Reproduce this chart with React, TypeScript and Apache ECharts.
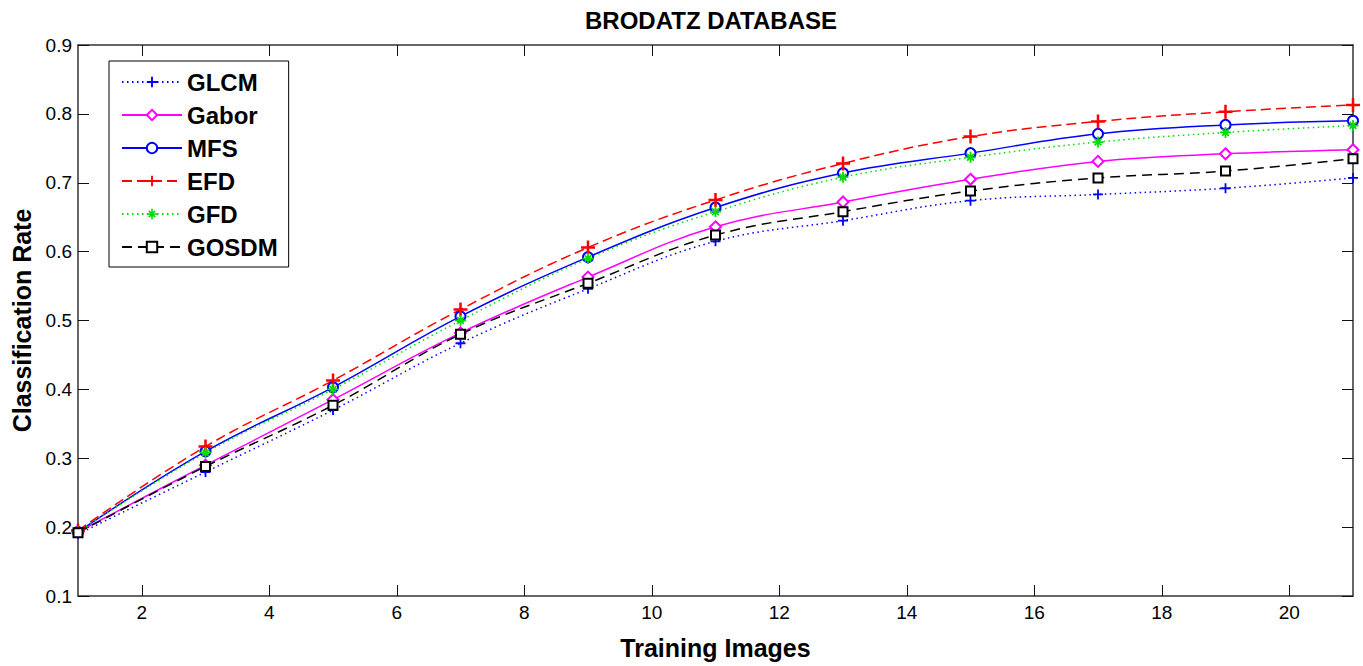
import React, { useEffect, useRef } from "react";
import * as echarts from "echarts";

const X = [1, 3, 5, 7, 9, 11, 13, 15, 17, 19, 21];
const GLCM = [0.19, 0.28, 0.37, 0.467, 0.546, 0.615, 0.645, 0.674, 0.683, 0.692, 0.707];
const GABOR = [0.193, 0.29, 0.385, 0.482, 0.563, 0.636, 0.672, 0.705, 0.731, 0.742, 0.748];
const MFS = [0.193, 0.31, 0.403, 0.506, 0.592, 0.664, 0.714, 0.743, 0.771, 0.784, 0.79];
const EFD = [0.195, 0.317, 0.413, 0.516, 0.606, 0.675, 0.728, 0.767, 0.789, 0.803, 0.813];
const GFD = [0.193, 0.308, 0.4, 0.5, 0.59, 0.658, 0.708, 0.737, 0.759, 0.773, 0.783];
const GOSDM = [0.192, 0.288, 0.377, 0.48, 0.554, 0.624, 0.658, 0.688, 0.707, 0.717, 0.735];
const X_TICKS = [2, 4, 6, 8, 10, 12, 14, 16, 18, 20];
const TITLE = "BRODATZ DATABASE";
const X_NAME = "Training Images";
const Y_NAME = "Classification Rate";

const FONT = '"Liberation Sans", Arial, Helvetica, sans-serif';
const PLUS = "path://M4.1,0H5.9V4.1H10V5.9H5.9V10H4.1V5.9H0V4.1H4.1Z";
const STAR =
  "path://M4.2,0H5.8V4.2H10V5.8H5.8V10H4.2V5.8H0V4.2H4.2Z M1.4,2.5L2.5,1.4L8.6,7.5L7.5,8.6Z M7.5,1.4L8.6,2.5L2.5,8.6L1.4,7.5Z";

const pairs = (ys: number[]) => X.map((x, i) => [x, ys[i]]);

export default function App() {
  const ref = useRef<HTMLDivElement>(null);
  useEffect(() => {
    document.body.style.margin = "0";
    document.body.style.overflow = "hidden";
    const chart = echarts.init(ref.current!, null, { renderer: "svg" });
    const lineSeries = (
      name: string,
      ys: number[],
      color: string,
      type: any,
      symbol: string,
      size: number,
      empty: boolean
    ) => ({
      name,
      type: "line",
      data: pairs(ys),
      smooth: 0.4,
      symbol,
      symbolSize: size,
      showSymbol: true,
      lineStyle: { color, width: 1.5, type },
      itemStyle: empty
        ? { color, borderColor: color, borderWidth: 1.1 }
        : { color, borderWidth: 0 },
      emphasis: { disabled: true },
      z: 3,
    });
    const axisCommon = {
      axisLine: { show: true, onZero: false, lineStyle: { color: "#333", width: 1.5 } },
      axisTick: { show: true, inside: true, length: 11, lineStyle: { color: "#111", width: 1 } },
      splitLine: { show: false },
    };
    chart.setOption({
      animation: false,
      backgroundColor: "#fff",
      textStyle: { fontFamily: FONT },
      grid: { left: 78, right: 10, top: 45, bottom: 70, containLabel: false, outerBoundsMode: "none" },
      graphic: [
        {
          type: "text",
          x: 711,
          y: 20,
          style: {
            text: TITLE,
            fontFamily: FONT,
            fontSize: 24,
            fontWeight: "bold",
            fill: "#000",
            textAlign: "center",
            textVerticalAlign: "middle",
          },
        },
      ],
      legend: {
        orient: "vertical",
        left: 109,
        top: 61,
        padding: [9, 11, 8, 12],
        itemWidth: 60,
        itemHeight: 13,
        itemGap: 9,
        backgroundColor: "#fff",
        borderColor: "#000",
        borderWidth: 1,
        borderRadius: 0,
        selectedMode: false,
        textStyle: { fontFamily: FONT, fontSize: 24, fontWeight: "bold", color: "#000", lineHeight: 24 },
        data: ["GLCM", "Gabor", "MFS", "EFD", "GFD", "GOSDM"],
      },
      xAxis: [
        {
          type: "value",
          min: 1,
          max: 21,
          position: "bottom",
          ...axisCommon,
          axisTick: { ...axisCommon.axisTick, customValues: X_TICKS },
          axisLabel: {
            customValues: X_TICKS,
            fontFamily: FONT,
            fontSize: 19,
            color: "#000",
            margin: 7,
          },
          name: X_NAME,
          nameLocation: "middle",
          nameGap: 39,
          nameTextStyle: { fontFamily: FONT, fontSize: 25, fontWeight: "bold", color: "#000" },
        },
        {
          type: "value",
          min: 1,
          max: 21,
          position: "top",
          ...axisCommon,
          axisTick: { ...axisCommon.axisTick, customValues: X_TICKS },
          axisLabel: { show: false },
        },
      ],
      yAxis: [
        {
          type: "value",
          min: 0.1,
          max: 0.9,
          interval: 0.1,
          position: "left",
          ...axisCommon,
          axisLabel: {
            fontFamily: FONT,
            fontSize: 19,
            color: "#000",
            margin: 6,
            formatter: (v: number) => v.toFixed(1),
          },
          name: Y_NAME,
          nameLocation: "middle",
          nameGap: 44,
          nameRotate: 90,
          nameTextStyle: { fontFamily: FONT, fontSize: 25, fontWeight: "bold", color: "#000" },
        },
        {
          type: "value",
          min: 0.1,
          max: 0.9,
          interval: 0.1,
          position: "right",
          ...axisCommon,
          axisLabel: { show: false },
        },
      ],
      series: [
        lineSeries("GLCM", GLCM, "#0000ff", [1.5, 3.5], PLUS, 10, false),
        lineSeries("Gabor", GABOR, "#ff00ff", "solid", "emptyDiamond", 11, true),
        lineSeries("MFS", MFS, "#0000ff", "solid", "emptyCircle", 10, true),
        lineSeries("EFD", EFD, "#ff0000", [10, 5], PLUS, 14, false),
        lineSeries("GFD", GFD, "#00dd00", [1.5, 3.5], STAR, 11, false),
        lineSeries("GOSDM", GOSDM, "#000000", [10, 6], "emptyRect", 9, true),
      ],
    });
    return () => chart.dispose();
  }, []);
  return <div ref={ref} style={{ width: 1363, height: 666 }} />;
}
